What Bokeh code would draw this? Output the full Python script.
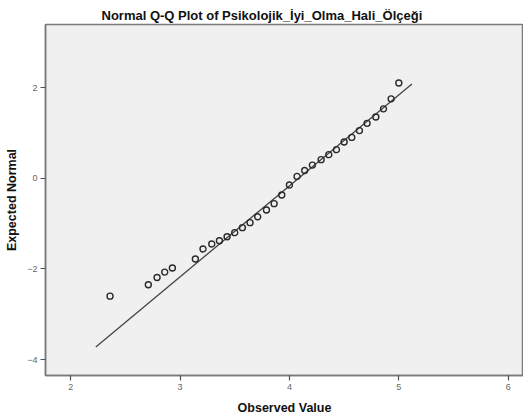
from bokeh.plotting import figure
from bokeh.models import Range1d, FixedTicker, ColumnDataSource
from bokeh.embed import file_html
from bokeh.resources import INLINE

# Observed values (unique scale scores) and expected normal quantiles
observed = [2.36, 2.71, 2.79, 2.86, 2.93, 3.14, 3.21, 3.29, 3.36, 3.43, 3.50,
            3.57, 3.64, 3.71, 3.79, 3.86, 3.93, 4.00, 4.07, 4.14, 4.21, 4.29,
            4.36, 4.43, 4.50, 4.57, 4.64, 4.71, 4.79, 4.86, 4.93, 5.00]
expected = [-2.60, -2.35, -2.19, -2.07, -1.98, -1.78, -1.56, -1.45, -1.38, -1.29, -1.20,
            -1.09, -0.98, -0.85, -0.70, -0.56, -0.37, -0.15, 0.04, 0.17, 0.29, 0.41,
            0.52, 0.63, 0.80, 0.90, 1.05, 1.21, 1.35, 1.53, 1.75, 2.10]
# Reference (normal) line endpoints
line_x = [2.23, 5.12]
line_y = [-3.72, 2.08]
x_ticks = [2, 3, 4, 5, 6]
y_ticks = [-4, -2, 0, 2]

title_text = "Normal Q-Q Plot of Psikolojik_İyi_Olma_Hali_Ölçeği"

p = figure(width=523, height=419, output_backend="svg", toolbar_location=None,
           x_range=Range1d(1.77, 6.14), y_range=Range1d(-4.35, 3.39),
           min_border_left=45, min_border_right=0, min_border_top=24,
           min_border_bottom=44)

p.background_fill_color = "#f0f0f0"
p.border_fill_color = "white"
p.outline_line_color = "#7a7a7a"
p.outline_line_width = 1.5
p.grid.visible = False

p.title.text = title_text
p.title.text_font = "Liberation Sans"
p.title.text_font_size = "13px"
p.title.text_font_style = "bold"
p.title.text_color = "#111111"
p.title.align = "left"
p.title.offset = 56
p.title.standoff = 4

for ax in (p.xaxis[0], p.yaxis[0]):
    ax.axis_line_color = "#7a7a7a"
    ax.axis_line_width = 1.5
    ax.major_tick_line_color = "#555555"
    ax.major_tick_line_width = 1.2
    ax.major_tick_out = 5
    ax.major_tick_in = 0
    ax.minor_tick_line_color = None
    ax.major_label_text_font = "Liberation Sans"
    ax.major_label_text_font_size = "9px"
    ax.major_label_text_color = "#666666"
    ax.axis_label_text_font = "Liberation Sans"
    ax.axis_label_text_font_size = "12.5px"
    ax.axis_label_text_font_style = "bold"
    ax.axis_label_text_color = "#111111"

p.xaxis.ticker = FixedTicker(ticks=x_ticks)
p.yaxis.ticker = FixedTicker(ticks=y_ticks)
p.xaxis.axis_label = "Observed Value"
p.yaxis.axis_label = "Expected Normal"
p.xaxis.major_label_standoff = 3
p.yaxis.major_label_standoff = 3
p.xaxis.axis_label_standoff = 8
p.yaxis.axis_label_standoff = 5

src = ColumnDataSource(dict(x=observed, y=expected))
p.line(line_x, line_y, line_color="#444444", line_width=1.3)
p.scatter("x", "y", source=src, marker="circle", size=6, fill_color=None,
          line_color="#2a2a2a", line_width=1.4)

open("out.html", "w").write(file_html(p, INLINE))
